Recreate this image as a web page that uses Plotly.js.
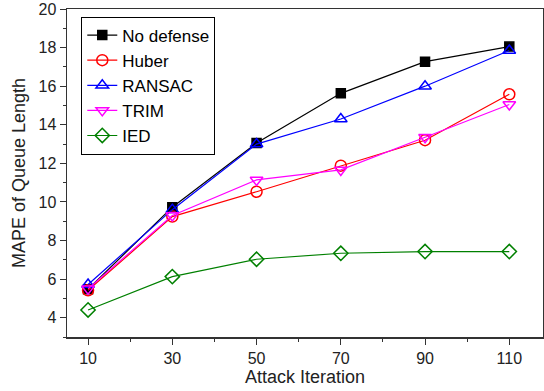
<!DOCTYPE html>
<html><head><meta charset="utf-8">
<script src="https://cdn.plot.ly/plotly-3.0.1.min.js"></script>
<style>html,body{margin:0;padding:0;background:#fff}</style>
</head><body><div id="chart" style="width:544px;height:391px"></div>
<script>
const iterations = [10, 30, 50, 70, 90, 110];
const noDefense = [5.48, 9.73, 13.05, 15.63, 17.27, 18.05];
const huber = [5.42, 9.24, 10.53, 11.88, 13.2, 15.58];
const ransac = [5.72, 9.6, 13.0, 14.3, 16.0, 17.85];
const trim = [5.5, 9.3, 11.14, 11.66, 13.35, 15.05];
const ied = [4.4, 6.13, 7.03, 7.34, 7.43, 7.43];
const names = ['No defense', 'Huber', 'RANSAC', 'TRIM', 'IED'];
const colors = ['#000000', '#ff0000', '#0000ff', '#ff00ff', '#008000'];
const symbols = ['square', 'circle-open', 'triangle-up-open', 'triangle-down-open', 'diamond-open'];
const series = [noDefense, huber, ransac, trim, ied];

const FONT = 'Liberation Sans, Arial, sans-serif';
const traces = series.map((ys, i) => ({
  x: iterations, y: ys, name: names[i], type: 'scatter', mode: 'lines+markers',
  line: {color: colors[i], width: 1.2},
  marker: {symbol: symbols[i], size: i === 0 ? 9 : 11, color: colors[i], line: {color: colors[i], width: 1.5}}
}));

const axisCommon = {
  showline: true, linecolor: '#333', linewidth: 1.5, mirror: true,
  ticks: 'outside', ticklen: 6, tickwidth: 1, tickcolor: '#333',
  showgrid: false, zeroline: false,
  tickfont: {family: FONT, size: 16, color: '#222'}
};

const layout = {
  width: 544, height: 391,
  margin: {l: 67, r: 1, t: 9, b: 54},
  paper_bgcolor: '#fff', plot_bgcolor: '#fff',
  showlegend: true,
  legend: {
    x: 0.03, y: 0.977, xanchor: 'left', yanchor: 'top',
    bordercolor: '#000', borderwidth: 1, bgcolor: '#fff',
    font: {family: FONT, size: 17, color: '#000'},
    tracegroupgap: 0, itemsizing: 'trace'
  },
  xaxis: Object.assign({}, axisCommon, {
    range: [5, 118], tickvals: iterations, ticktext: iterations.map(String),
    minor: {ticks: 'outside', ticklen: 3, tickcolor: '#333', tickvals: [20, 40, 60, 80, 100]},
    title: {text: 'Attack Iteration', standoff: 4, font: {family: FONT, size: 18, color: '#222'}}
  }),
  yaxis: Object.assign({}, axisCommon, {
    range: [3, 20], tickvals: [4, 6, 8, 10, 12, 14, 16, 18, 20],
    minor: {ticks: 'outside', ticklen: 3, tickcolor: '#333', tickvals: [3, 5, 7, 9, 11, 13, 15, 17, 19]},
    title: {text: 'MAPE of Queue Length', standoff: 8, font: {family: FONT, size: 18, color: '#222'}}
  })
};

Plotly.newPlot('chart', traces, layout, {displayModeBar: false, staticPlot: true});
</script></body></html>
